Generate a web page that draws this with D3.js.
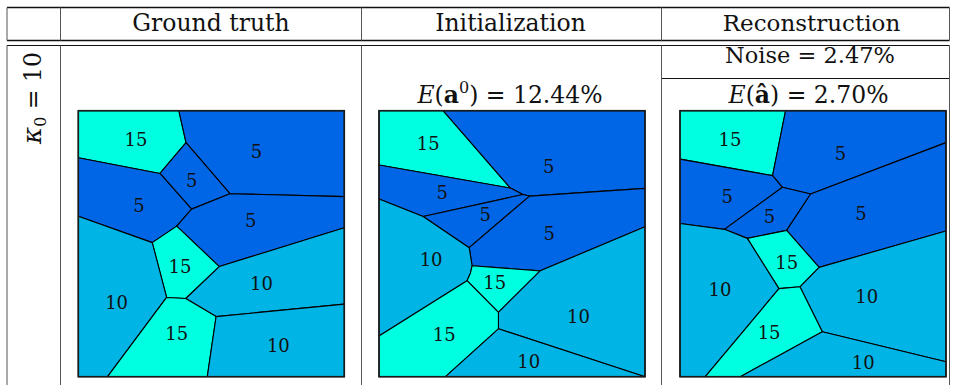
<!DOCTYPE html>
<html>
<head>
<meta charset="utf-8">
<script src="https://cdn.jsdelivr.net/npm/d3@7"></script>
<style>
  html, body { margin: 0; padding: 0; background: #fff; }
  svg { display: block; }
  text { font-family: "DejaVu Serif", serif; fill: #111; }
</style>
</head>
<body>
<svg id="chart" width="953" height="385"></svg>
<script>
// ---------------- data ----------------
const columnTitles = ["Ground truth", "Initialization", "Reconstruction"];
const kappa0 = 10;
const initError = "12.44%";
const noiseLevel = "2.47%";
const reconError = "2.70%";

const valueColors = { 5: "#0066e6", 10: "#00b4e6", 15: "#00ffe1" };

// Cells: coordinates in percent of the panel (x to the right, y downward)
const groundTruthValues = [15, 5, 5, 5, 5, 15, 10, 10, 15, 10];
const groundTruthCells = [
  [[0,0],[37.8,0],[40.5,12.0],[30.7,23.6],[0,17.7]],
  [[37.8,0],[100,0],[100,32.3],[57.0,31.2],[40.5,12.0]],
  [[40.5,12.0],[57.0,31.2],[42.6,37.0],[30.7,23.6]],
  [[0,17.7],[30.7,23.6],[42.6,37.0],[37.0,43.4],[27.8,49.6],[0,39.7]],
  [[57.0,31.2],[100,32.3],[100,44.0],[53.0,58.6],[37.0,43.4],[42.6,37.0]],
  [[37.0,43.4],[53.0,58.6],[40.4,70.6],[33.2,70.2],[27.8,49.6]],
  [[0,39.7],[27.8,49.6],[33.2,70.2],[11.0,100],[0,100]],
  [[100,44.0],[100,72.7],[51.8,77.4],[40.4,70.6],[53.0,58.6]],
  [[33.2,70.2],[40.4,70.6],[51.8,77.4],[48.5,100],[11.0,100]],
  [[51.8,77.4],[100,72.7],[100,100],[48.5,100]]
];
const groundTruthLabels = [
  [21.7,10.8],[67.0,15.2],[42.6,26.3],[22.8,35.5],[64.8,41.4],
  [38.2,58.4],[14.4,72.1],[68.9,64.9],[37.0,83.7],[75.2,88.1]
];

const initValues = [15, 5, 5, 5, 5, 10, 15, 10, 15, 10];
const initCells = [
  [[0,0],[24.1,0],[49.4,29.1],[0,20.4]],
  [[24.1,0],[100,0],[100,29.2],[56.6,32.1],[54.1,31.5],[49.4,29.1]],
  [[0,20.4],[49.4,29.1],[54.1,31.5],[16.6,39.8],[0,33.2]],
  [[16.6,39.8],[54.1,31.5],[56.6,32.1],[33.9,51.5]],
  [[56.6,32.1],[100,29.2],[100,43.6],[60.6,60.2],[35.0,58.3],[33.9,51.5]],
  [[0,33.2],[16.6,39.8],[33.9,51.5],[35.0,58.3],[34.4,61.0],[33.1,63.9],[0,84.7]],
  [[35.0,58.3],[60.6,60.2],[44.9,75.8],[33.1,63.9],[34.4,61.0]],
  [[100,43.6],[100,100],[44.9,82.0],[44.9,75.8],[60.6,60.2]],
  [[0,84.7],[33.1,63.9],[44.9,75.8],[44.9,82.0],[25.0,100],[0,100]],
  [[44.9,82.0],[100,100],[25.0,100]]
];
const initLabels = [
  [18.5,12.3],[63.8,21.1],[23.8,30.8],[39.9,39.0],[64.0,46.1],
  [19.6,55.8],[43.5,64.5],[75.0,77.2],[24.5,84.3],[56.3,94.4]
];

const reconValues = [15, 5, 5, 5, 5, 15, 10, 10, 15, 10];
const reconCells = [
  [[0,0],[39.7,0],[34.8,24.4],[0,18.2]],
  [[39.7,0],[100,0],[100,12.0],[49.1,31.3],[38.5,28.8],[34.8,24.4]],
  [[0,18.2],[34.8,24.4],[38.5,28.8],[16.7,44.6],[0,42.4]],
  [[38.5,28.8],[49.1,31.3],[40.1,45.0],[25.3,48.0],[16.7,44.6]],
  [[49.1,31.3],[100,12.0],[100,45.2],[52.3,58.9],[40.1,45.0]],
  [[25.3,48.0],[40.1,45.0],[52.3,58.9],[45.1,66.2],[37.2,66.9]],
  [[0,42.4],[16.7,44.6],[25.3,48.0],[37.2,66.9],[9.5,100],[0,100]],
  [[100,45.2],[100,94.4],[53.5,83.1],[45.1,66.2],[52.3,58.9]],
  [[37.2,66.9],[45.1,66.2],[53.5,83.1],[22.7,100],[9.5,100]],
  [[53.5,83.1],[100,94.4],[100,100],[22.7,100]]
];
const reconLabels = [
  [18.8,10.8],[60.3,16.0],[17.8,32.1],[33.6,39.6],[68.0,38.8],
  [40.1,57.1],[15.0,67.4],[70.2,69.9],[33.5,83.3],[68.9,94.6]
];

// ---------------- layout ----------------
const svg = d3.select("#chart");
const tableLeft = 7, tableRight = 949.5;
const colX = [tableLeft, 60.5, 361.5, 661.5, tableRight];
const yTop = 7.5, yHead1 = 40.5, yHead2 = 45.5, yNoise = 78.5, yBottom = 385;

const panels = [
  { x0: 78.3, values: groundTruthValues, cells: groundTruthCells, labels: groundTruthLabels },
  { x0: 379.0, values: initValues, cells: initCells, labels: initLabels },
  { x0: 680.0, values: reconValues, cells: reconCells, labels: reconLabels }
];
const panelSize = 266, panelTop = 110.7;

const g = svg.append("g");
[[tableLeft, tableRight, yTop, 1.3], [tableLeft, tableRight, yHead1, 1.3], [tableLeft, tableRight, yHead2, 1.1],
 [colX[3], tableRight, yNoise, 1.0]].forEach(([x1, x2, y, w]) => {
  g.append("line").attr("x1", x1).attr("x2", x2).attr("y1", y).attr("y2", y)
    .attr("stroke", "#111").attr("stroke-width", w);
});
colX.forEach(x => {
  g.append("line").attr("x1", x).attr("x2", x).attr("y1", yTop).attr("y2", yHead1)
    .attr("stroke", "#555").attr("stroke-width", 1);
  g.append("line").attr("x1", x).attr("x2", x).attr("y1", yHead2).attr("y2", yBottom)
    .attr("stroke", "#555").attr("stroke-width", 1);
});

const FS = 23.5;
const titleX = [211, 510.5, 811.5];
columnTitles.forEach((t, i) => {
  svg.append("text").attr("x", titleX[i]).attr("y", 31)
    .attr("text-anchor", "middle").attr("font-size", i === 2 ? 23 : FS).text(t);
});

const rl = svg.append("text")
  .attr("transform", "translate(41,98) rotate(-90)")
  .attr("text-anchor", "middle").attr("font-size", FS);
rl.append("tspan").attr("font-style", "italic").attr("font-size", 26).text("κ");
rl.append("tspan").attr("font-size", 16).attr("dy", 5).text("0");
rl.append("tspan").attr("dy", -5).text(" = " + kappa0);

const t1 = svg.append("text").attr("x", 510).attr("y", 103)
  .attr("text-anchor", "middle").attr("font-size", FS);
t1.append("tspan").attr("font-style", "italic").text("E");
t1.append("tspan").text("(");
t1.append("tspan").attr("font-weight", "bold").text("a");
t1.append("tspan").attr("font-size", 16).attr("dy", -10).text("0");
t1.append("tspan").attr("dy", 10).text(") = " + initError);

svg.append("text").attr("x", 810).attr("y", 63)
  .attr("text-anchor", "middle").attr("font-size", 22.5)
  .text("Noise = " + noiseLevel);

const t2 = svg.append("text").attr("x", 808.5).attr("y", 103)
  .attr("text-anchor", "middle").attr("font-size", FS);
t2.append("tspan").attr("font-style", "italic").text("E");
t2.append("tspan").text("(");
t2.append("tspan").attr("font-weight", "bold").text("â");
t2.append("tspan").text(") = " + reconError);

panels.forEach(p => {
  const x = d3.scaleLinear().domain([0, 100]).range([p.x0, p.x0 + panelSize]);
  const y = d3.scaleLinear().domain([0, 100]).range([panelTop, panelTop + panelSize]);
  const line = d3.line().x(d => x(d[0])).y(d => y(d[1])).curve(d3.curveLinearClosed);
  const pg = svg.append("g");
  pg.selectAll("path.cell").data(p.cells).join("path")
    .attr("class", "cell")
    .attr("d", line)
    .attr("fill", (d, i) => valueColors[p.values[i]])
    .attr("stroke", "#000").attr("stroke-width", 1.1)
    .attr("stroke-linejoin", "round");
  pg.append("rect")
    .attr("x", x(0)).attr("y", y(0))
    .attr("width", x(100) - x(0)).attr("height", y(100) - y(0))
    .attr("fill", "none").attr("stroke", "#1a1a1a").attr("stroke-width", 1.6);
  pg.selectAll("text.lab").data(p.labels).join("text")
    .attr("class", "lab")
    .attr("x", d => x(d[0])).attr("y", d => y(d[1]))
    .attr("text-anchor", "middle").attr("dominant-baseline", "central")
    .attr("font-size", 18)
    .text((d, i) => p.values[i]);
});
</script>
</body>
</html>
